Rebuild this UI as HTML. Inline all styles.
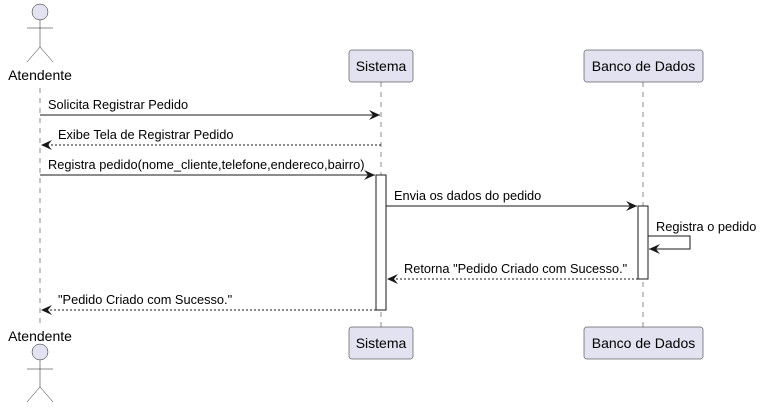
<!DOCTYPE html>
<html><head><style>body{margin:0;background:#fff}svg{display:block}</style></head><body>
<svg width="762" height="409" xmlns="http://www.w3.org/2000/svg" font-family="Liberation Sans, sans-serif" font-size="12.8">
<defs>
<marker id="a" viewBox="0 0 12 10" refX="11" refY="5" markerWidth="12" markerHeight="10" markerUnits="userSpaceOnUse" orient="auto"><path d="M0,0 L11,5 L0,10 L4,5 Z" fill="#181818"/></marker>
</defs>
<g stroke="#181818" stroke-width="0.5" stroke-dasharray="5,5">
<line x1="40" y1="88" x2="40" y2="324"/>
<line x1="381" y1="82" x2="381" y2="327"/>
<line x1="643" y1="82" x2="643" y2="327"/>
</g>
<g fill="#E2E2F0" stroke="#181818" stroke-width="0.5">
<circle cx="40" cy="12" r="8"/>
<circle cx="40" cy="352" r="8"/>
<rect x="349" y="50" width="64" height="32" rx="2.5"/>
<rect x="349" y="327" width="64" height="32" rx="2.5"/>
<rect x="584" y="50" width="119" height="32" rx="2.5"/>
<rect x="584" y="327" width="119" height="32" rx="2.5"/>
</g>
<g stroke="#181818" stroke-width="0.5" fill="none">
<path d="M40,20V47M27,28H53M40,47L27,62M40,47L53,62"/>
<path d="M40,360V387M27,369H53M40,387L27,402M40,387L53,402"/>
</g>
<g fill="#fff" stroke="#181818" stroke-width="1">
<rect x="376" y="175" width="10" height="135"/>
<rect x="638" y="206" width="10" height="73"/>
</g>
<g stroke="#181818" stroke-width="1" fill="none" marker-end="url(#a)">
<line x1="40" y1="115" x2="380" y2="115"/>
<line x1="381" y1="145" x2="41" y2="145" stroke-dasharray="2,2"/>
<line x1="40" y1="175" x2="375" y2="175"/>
<line x1="386" y1="206" x2="637" y2="206"/>
<path d="M648,236H690V249H649"/>
<line x1="638" y1="279" x2="387" y2="279" stroke-dasharray="2,2"/>
<line x1="376" y1="310" x2="41" y2="310" stroke-dasharray="2,2"/>
</g>
<g fill="#000">
<text x="40" y="80" text-anchor="middle" font-size="14">Atendente</text>
<text x="40" y="341" text-anchor="middle" font-size="14">Atendente</text>
<text x="381" y="71" text-anchor="middle" font-size="14">Sistema</text>
<text x="381" y="348" text-anchor="middle" font-size="14">Sistema</text>
<text x="643.5" y="71" text-anchor="middle" font-size="14">Banco de Dados</text>
<text x="643.5" y="348" text-anchor="middle" font-size="14">Banco de Dados</text>
<text x="48" y="109">Solicita Registrar Pedido</text>
<text x="58" y="139">Exibe Tela de Registrar Pedido</text>
<text x="48" y="169">Registra pedido(nome_cliente,telefone,endereco,bairro)</text>
<text x="394" y="200">Envia os dados do pedido</text>
<text x="656" y="231">Registra o pedido</text>
<text x="404" y="273">Retorna "Pedido Criado com Sucesso."</text>
<text x="58" y="304">"Pedido Criado com Sucesso."</text>
</g>
</svg>
</body></html>
